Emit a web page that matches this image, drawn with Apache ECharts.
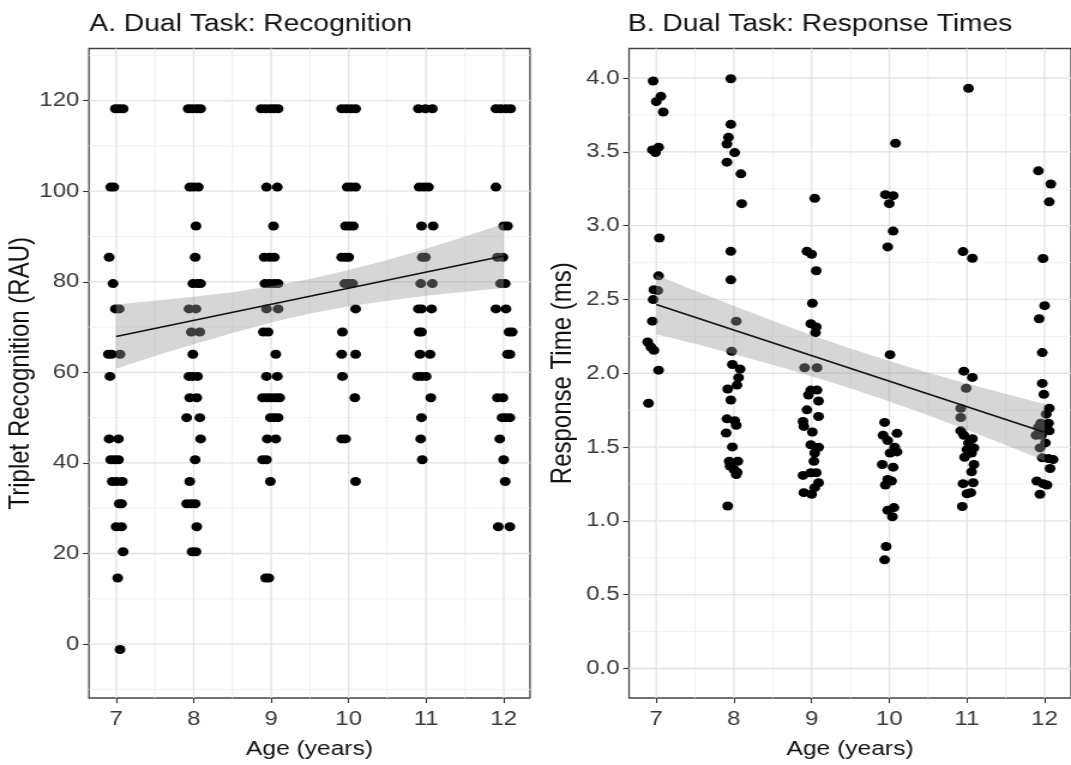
<!DOCTYPE html>
<html><head><meta charset="utf-8">
<script src="https://cdn.jsdelivr.net/npm/echarts@6/dist/echarts.min.js"></script>
<style>
html,body{margin:0;padding:0;background:#fff;overflow:hidden;}
#chart{width:893px;height:765px;transform:scaleX(1.19933);transform-origin:0 0;}
</style></head><body><div id="chart"></div>
<script>
// ---------- Panel A: recognition (RAU) by age (jittered) ----------
const recAge = [
 6.99,7.04,7.09, 6.93,6.97, 6.91, 6.96, 6.99,7.04, 6.90,6.94,7.05, 6.92, 6.91,7.03, 6.93,6.98,7.03, 6.95,7.01,7.08, 7.04,7.07, 7.00,7.07, 7.09, 7.02, 7.05,
 7.93,7.98,8.04,8.09, 7.95,8.00,8.06, 8.03, 8.02, 7.99,8.05,8.09, 7.94,8.03, 7.97,8.08, 7.99, 7.94,7.99,8.05, 7.95,8.04, 7.91,8.08, 8.09, 8.02, 7.95, 7.91,7.97,8.02, 8.04, 7.98,8.03,
 8.87,8.93,8.99,9.04,9.09, 8.94,9.08, 9.03, 8.91,8.98,9.04, 8.92,8.98,9.04,9.09, 8.94,9.09, 8.90,8.96, 9.06, 8.94,9.08, 8.89,8.95,9.00,9.06,9.11, 8.99,9.04,9.09, 8.95,9.06, 8.89,8.94, 8.99, 8.93,8.97,
 9.91,9.97,10.03,10.09, 9.98,10.03,10.09, 9.96,10.01,10.06, 9.91,9.96,10.00, 9.95,10.00,10.05, 10.09, 9.92, 9.91,10.09, 9.92, 10.08, 9.91,9.96, 10.09,
 10.90,10.99,11.08, 10.91,10.97,11.03, 10.94,11.09, 10.95,10.99, 10.93,11.08, 10.90,10.94,11.07, 10.91,10.94, 10.92,11.05, 10.89,10.94,11.00, 11.06, 10.94, 10.93, 10.95,
 11.90,11.96,12.03,12.09, 11.90, 12.00,12.05, 11.92,11.99, 11.96,12.02, 11.90,12.03, 12.07,12.11, 12.05,12.08, 11.92,11.99, 11.98,12.03,12.08, 11.95, 12.00, 12.02, 11.93,12.08
];
const recVal = [
 118.2,118.2,118.2, 100.9,100.9, 85.4, 79.6, 74.0,74.0, 64.0,64.0,64.0, 59.1, 45.3,45.3, 40.7,40.7,40.7, 35.9,35.9,35.9, 31.0,31.0, 25.9,25.9, 20.4, 14.6, -1.2,
 118.2,118.2,118.2,118.2, 100.9,100.9,100.9, 92.3, 85.4, 79.6,79.6,79.6, 74.0,74.0, 68.9,68.9, 64.0, 59.1,59.1,59.1, 54.4,54.4, 50.0,50.0, 45.3, 40.7, 35.9, 31.0,31.0,31.0, 25.9, 20.4,20.4,
 118.2,118.2,118.2,118.2,118.2, 100.9,100.9, 92.3, 85.4,85.4,85.4, 79.6,79.6,79.6,79.6, 74.0,74.0, 68.9,68.9, 64.0, 59.1,59.1, 54.4,54.4,54.4,54.4,54.4, 50.0,50.0,50.0, 45.3,45.3, 40.7,40.7, 35.9, 14.6,14.6,
 118.2,118.2,118.2,118.2, 100.9,100.9,100.9, 92.3,92.3,92.3, 85.4,85.4,85.4, 79.6,79.6,79.6, 74.0, 68.9, 64.0,64.0, 59.1, 54.4, 45.3,45.3, 35.9,
 118.2,118.2,118.2, 100.9,100.9,100.9, 92.3,92.3, 85.4,85.4, 79.6,79.6, 74.0,74.0,74.0, 68.9,68.9, 64.0,64.0, 59.1,59.1,59.1, 54.4, 50.0, 45.3, 40.7,
 118.2,118.2,118.2,118.2, 100.9, 92.3,92.3, 85.4,85.4, 79.6,79.6, 74.0,74.0, 68.9,68.9, 64.0,64.0, 54.4,54.4, 50.0,50.0,50.0, 45.3, 40.7, 35.9, 25.9,25.9
];
const recFitX = [7, 12];
const recFitY = [67.9, 85.7];
const recBandX  = [7, 7.5, 8, 8.5, 9, 9.5, 10, 10.5, 11, 11.5, 12];
const recBandLo = [60.8, 63.6, 66.2, 68.7, 71.0, 73.0, 74.6, 75.8, 76.9, 77.8, 78.6];
const recBandHi = [75.0, 75.8, 76.7, 77.7, 79.0, 80.6, 82.6, 84.8, 87.3, 90.0, 92.8];

// ---------- Panel B: response times by age (jittered) ----------
const rtAge = [
 6.96,7.06,7.00,7.09,6.95,7.03,6.99,7.04,7.03,6.97,7.02,6.96,6.95,6.89,6.93,6.97,7.03,6.90,
 7.96,7.96,7.93,7.91,8.01,7.91,8.09,8.10,7.96,7.96,8.03,7.97,7.98,8.08,8.06,8.04,7.92,7.96,7.91,8.01,8.03,7.90,7.98,7.94,8.05,7.95,8.00,8.04,8.03,7.92,
 9.04,8.94,9.00,9.06,9.01,8.99,9.06,9.05,8.91,9.07,8.99,9.07,8.96,9.09,8.94,9.09,8.89,8.90,9.01,8.99,9.09,9.04,9.03,8.99,9.06,8.89,9.09,9.04,8.90,9.00,
 10.08,9.95,10.05,10.00,10.05,9.98,10.01,9.94,10.10,9.92,9.98,10.07,10.01,10.10,9.91,10.05,9.98,10.03,9.95,10.06,9.98,10.04,9.96,9.94,
 11.02,10.95,11.07,10.96,11.07,10.99,10.92,10.92,10.92,10.96,11.07,11.02,11.09,11.00,11.06,10.97,11.09,11.06,10.95,11.08,11.00,11.05,10.94,
 11.92,12.08,12.06,11.98,12.00,11.93,11.97,11.97,11.99,12.06,12.02,12.05,11.95,11.92,11.98,12.06,11.89,11.96,12.01,11.94,11.97,12.05,12.11,12.07,11.90,11.98,12.03,11.94
];
const rtVal = [
 3.98,3.876,3.84,3.77,3.513,3.531,3.495,2.916,2.66,2.566,2.56,2.499,2.353,2.212,2.178,2.155,2.021,1.797,
 3.995,3.686,3.598,3.553,3.495,3.43,3.351,3.149,2.826,2.633,2.353,2.149,2.059,2.028,1.97,1.92,1.893,1.819,1.691,1.678,1.647,1.595,1.501,1.404,1.404,1.371,1.348,1.33,1.314,1.101,
 3.185,2.826,2.806,2.694,2.474,2.335,2.313,2.275,2.037,2.037,1.886,1.886,1.853,1.812,1.752,1.707,1.673,1.64,1.602,1.516,1.499,1.46,1.404,1.326,1.326,1.308,1.258,1.225,1.191,1.18,
 3.558,3.21,3.203,3.149,2.963,2.856,2.126,1.667,1.593,1.58,1.544,1.499,1.46,1.467,1.382,1.364,1.281,1.27,1.243,1.09,1.072,1.028,0.826,0.736,
 3.93,2.824,2.779,2.014,1.972,1.898,1.763,1.70,1.61,1.58,1.556,1.528,1.494,1.483,1.46,1.431,1.382,1.332,1.252,1.258,1.184,1.191,1.097,
 3.371,3.282,3.161,2.777,2.458,2.369,2.14,1.931,1.857,1.763,1.723,1.662,1.662,1.633,1.629,1.61,1.58,1.58,1.528,1.494,1.427,1.422,1.415,1.355,1.27,1.252,1.243,1.18
];
const rtFitX = [7, 12];
const rtFitY = [2.465, 1.600];
const rtBandX  = [7, 7.5, 8, 8.5, 9, 9.5, 10, 10.5, 11, 11.5, 12];
const rtBandLo = [2.265, 2.199, 2.129, 2.057, 1.980, 1.898, 1.809, 1.716, 1.616, 1.514, 1.408];
const rtBandHi = [2.665, 2.559, 2.455, 2.355, 2.258, 2.168, 2.083, 2.004, 1.930, 1.860, 1.792];

// ---------- ticks ----------
const xTicks  = [7, 8, 9, 10, 11, 12];
const xMinor  = [7.5, 8.5, 9.5, 10.5, 11.5];
const yTicksA = [0, 20, 40, 60, 80, 100, 120];
const yMinorA = [-10, 10, 30, 50, 70, 90, 110, 130];
const yTicksB = [0, 0.5, 1, 1.5, 2, 2.5, 3, 3.5, 4];
const yMinorB = [0.25, 0.75, 1.25, 1.75, 2.25, 2.75, 3.25, 3.75];

const titles = ['A. Dual Task: Recognition', 'B. Dual Task: Response Times'];
const xName = 'Age (years)';
const yNames = ['Triplet Recognition (RAU)', 'Response Time (ms)'];

// ---------- build ----------
const FONT = "'Liberation Sans', Arial, Helvetica, sans-serif";
const X_MIN = 6.65, X_MAX = 12.34;
const Y_EXT = [[-11.9, 131.5], [-0.2, 4.2]];

function zip(a, b) { return a.map((v, i) => [v, b[i]]); }

function gridSeries(gi, yMajor, yMinor) {
  const yr = Y_EXT[gi];
  return {
    type: 'custom', xAxisIndex: gi, yAxisIndex: gi, z: 1, silent: true,
    data: [[X_MIN, yr[0]]],
    renderItem: function (params, api) {
      const ch = [];
      const add = (p1, p2, c, w) => ch.push({type: 'line', shape: {x1: p1[0], y1: p1[1], x2: p2[0], y2: p2[1]}, style: {stroke: c, lineWidth: w}});
      yMinor.forEach(v => { if (v > yr[0] && v < yr[1]) add(api.coord([X_MIN, v]), api.coord([X_MAX, v]), '#efefef', 0.9); });
      xMinor.forEach(v => add(api.coord([v, yr[0]]), api.coord([v, yr[1]]), '#efefef', 0.9));
      yMajor.forEach(v => add(api.coord([X_MIN, v]), api.coord([X_MAX, v]), '#e3e3e3', 1.3));
      xTicks.forEach(v => add(api.coord([v, yr[0]]), api.coord([v, yr[1]]), '#e3e3e3', 1.3));
      return {type: 'group', children: ch};
    }
  };
}

function bandSeries(gi, bx, lo, hi) {
  return {
    type: 'custom', xAxisIndex: gi, yAxisIndex: gi, z: 3, silent: true,
    data: [[bx[0], lo[0]]],
    renderItem: function (params, api) {
      const pts = [];
      for (let i = 0; i < bx.length; i++) pts.push(api.coord([bx[i], hi[i]]));
      for (let i = bx.length - 1; i >= 0; i--) pts.push(api.coord([bx[i], lo[i]]));
      return {type: 'polygon', shape: {points: pts}, style: {fill: 'rgba(153,153,153,0.4)'}};
    }
  };
}

function xAxis(gi) {
  return {
    type: 'value', gridIndex: gi, min: X_MIN, max: X_MAX,
    splitLine: {show: false},
    axisLine: {show: false, onZero: false},
    axisTick: {show: true, length: 5, lineStyle: {color: '#333', width: 1.1}, customValues: xTicks},
    axisLabel: {customValues: xTicks, margin: 11, fontSize: 20, color: '#3a3a3a', fontFamily: FONT},
    name: xName, nameLocation: 'middle', nameGap: 41,
    nameTextStyle: {fontSize: 20.5, color: '#111', fontFamily: FONT}
  };
}

function yAxis(gi, ticks, gap, fmt) {
  return {
    type: 'value', gridIndex: gi, min: Y_EXT[gi][0], max: Y_EXT[gi][1],
    splitLine: {show: false},
    axisLine: {show: false, onZero: false},
    axisTick: {show: true, length: 5, lineStyle: {color: '#333', width: 1.1}, customValues: ticks},
    axisLabel: {customValues: ticks, margin: 8, fontSize: 20, color: '#3a3a3a', fontFamily: FONT, formatter: fmt},
    name: yNames[gi], nameLocation: 'middle', nameGap: gap, nameRotate: 90,
    nameTextStyle: {fontSize: 24, color: '#111', fontFamily: FONT}
  };
}

const chart = echarts.init(document.getElementById('chart'), null, {renderer: 'canvas'});
chart.setOption({
  animation: false,
  backgroundColor: '#ffffff',
  title: [
    {text: titles[0], left: 74.6, top: 13, padding: 0, textStyle: {fontSize: 23.5, fontWeight: 'normal', color: '#111', fontFamily: FONT}},
    {text: titles[1], left: 523.6, top: 13, padding: 0, textStyle: {fontSize: 23.5, fontWeight: 'normal', color: '#111', fontFamily: FONT}}
  ],
  grid: [
    {left: 74.2, right: 451.1, top: 48.5, bottom: 62, show: true, borderColor: '#444', borderWidth: 1.3, backgroundColor: '#fff'},
    {left: 524.5, right: -3.3, top: 48.5, bottom: 62, show: true, borderColor: '#444', borderWidth: 1.3, backgroundColor: '#fff'}
  ],
  xAxis: [xAxis(0), xAxis(1)],
  yAxis: [
    yAxis(0, yTicksA, 45, v => String(Math.round(v))),
    yAxis(1, yTicksB, 43, v => v.toFixed(1))
  ],
  series: [
    gridSeries(0, yTicksA, yMinorA),
    gridSeries(1, yTicksB, yMinorB),
    {type: 'scatter', xAxisIndex: 0, yAxisIndex: 0, z: 2, symbolSize: 9, itemStyle: {color: '#000', opacity: 1}, data: zip(recAge, recVal)},
    {type: 'scatter', xAxisIndex: 1, yAxisIndex: 1, z: 2, symbolSize: 9, itemStyle: {color: '#000', opacity: 1}, data: zip(rtAge, rtVal)},
    bandSeries(0, recBandX, recBandLo, recBandHi),
    bandSeries(1, rtBandX, rtBandLo, rtBandHi),
    {type: 'line', xAxisIndex: 0, yAxisIndex: 0, z: 4, showSymbol: false, lineStyle: {color: '#111', width: 1.6}, data: zip(recFitX, recFitY)},
    {type: 'line', xAxisIndex: 1, yAxisIndex: 1, z: 4, showSymbol: false, lineStyle: {color: '#111', width: 1.6}, data: zip(rtFitX, rtFitY)}
  ]
});
</script></body></html>
